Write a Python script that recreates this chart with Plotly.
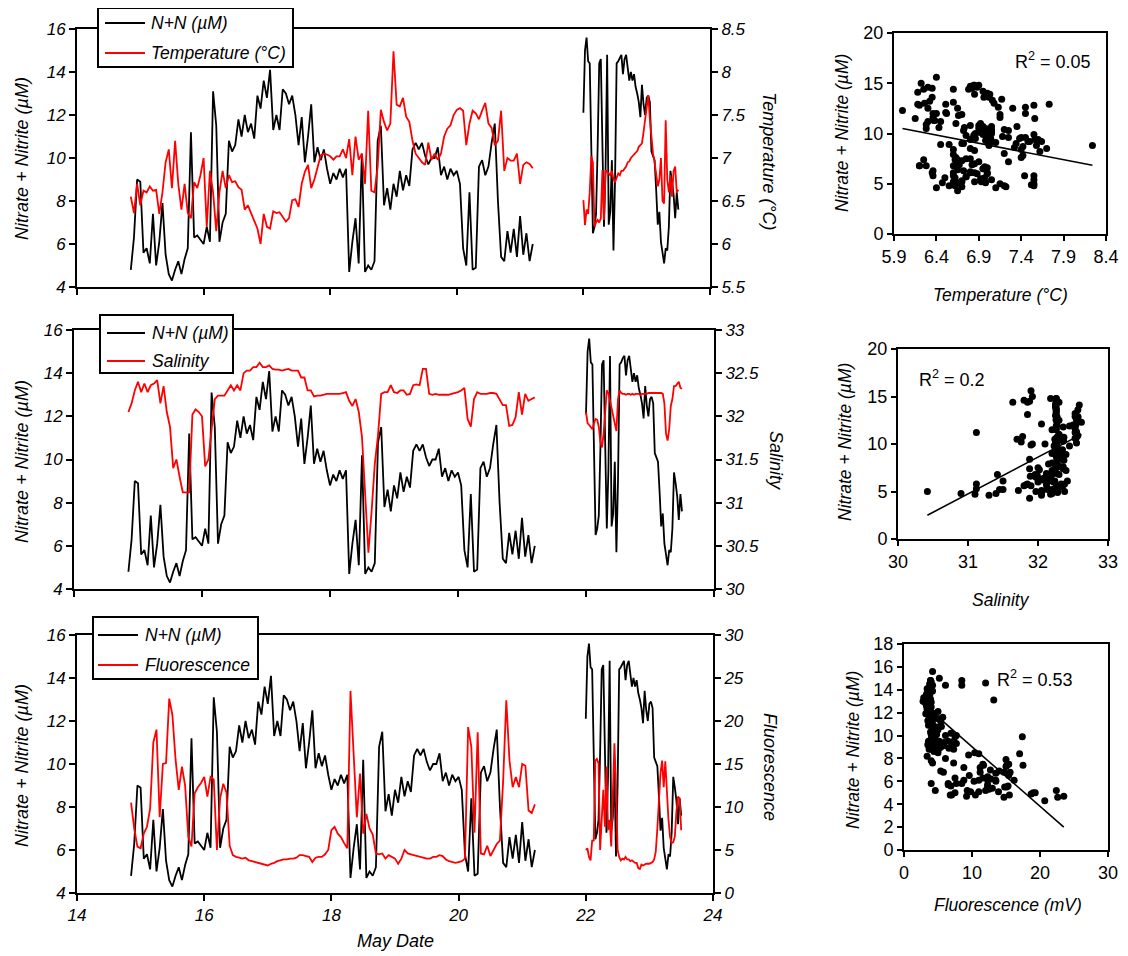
import plotly.graph_objects as go

# ---------------- data ----------------
seg1_start, seg1_step = 14.85, 0.05     # May date, first sampling segment
seg2_start, seg2_step = 22.0, 0.025     # May date, second sampling segment

nn_seg1 = [4.8, 6.3, 9.0, 8.9, 5.6, 5.8, 5.1, 7.4, 5.0, 6.1,
           7.9, 5.5, 4.6, 4.3, 4.8, 5.2, 4.6, 5.3, 5.8, 11.2,
           6.3, 6.4, 6.2, 6.0, 6.8, 6.1, 13.1, 11.5, 6.1, 7.0,
           7.4, 10.8, 10.3, 10.6, 11.8, 11.0, 12.0, 11.2, 11.6, 10.9,
           12.9, 12.3, 13.6, 12.8, 14.1, 11.3, 12.0, 11.3, 13.2, 13.0,
           12.5, 12.9, 12.0, 10.6, 11.9, 9.8, 11.0, 12.5, 9.8, 10.5,
           9.9, 10.4, 9.5, 8.8, 9.3, 9.0, 9.5, 9.1, 9.5, 4.7,
           6.1, 7.2, 5.1, 10.2, 4.7, 5.0, 4.8, 5.2, 10.8, 11.5,
           7.8, 8.6, 7.6, 8.8, 8.2, 9.4, 8.5, 9.2, 8.7, 10.4,
           10.7, 10.4, 10.7, 10.1, 9.7, 10.0, 10.0, 10.5, 9.2, 9.6,
           9.0, 9.5, 9.2, 9.4, 8.8, 5.8, 5.0, 8.4, 4.8, 4.9,
           9.6, 9.9, 9.2, 9.6, 10.7, 11.6, 8.0, 5.4, 5.2, 6.6,
           5.6, 6.7, 5.4, 7.3, 5.5, 6.5, 5.2, 6.0]
nn_seg2 = [12.1, 15.0, 15.6, 14.5, 14.4, 10.0, 6.5, 6.8, 7.4, 10.5,
           14.4, 14.6, 10.0, 6.8, 9.5, 14.8, 6.9, 7.5, 9.9, 5.7,
           9.0, 14.4, 14.5, 14.7, 14.8, 13.9, 14.6, 14.8, 14.2, 13.6,
           14.0, 13.6, 13.9, 13.3, 13.0, 12.6, 11.9, 13.4, 12.5, 12.0,
           12.8, 12.9, 12.6, 10.3, 10.1, 9.9, 8.5, 6.9, 7.5, 6.1,
           5.6, 5.1, 5.8, 5.7, 6.8, 9.4, 8.9, 8.3, 7.2, 8.4,
           7.6]

temp_seg1 = [6.55, 6.36, 6.70, 6.45, 6.62, 6.60, 6.67, 6.62, 6.63, 6.35,
             6.60, 6.95, 7.10, 6.65, 7.20, 6.70, 6.40, 6.70, 6.36, 6.30,
             6.72, 6.65, 6.80, 7.00, 6.20, 6.85, 6.60, 6.15, 6.60, 6.85,
             6.65, 6.80, 6.72, 6.73, 6.66, 6.63, 6.40, 6.45, 6.36, 6.28,
             6.18, 6.00, 6.35, 6.20, 6.18, 6.38, 6.36, 6.37, 6.32, 6.26,
             6.30, 6.51, 6.52, 6.43, 6.70, 6.84, 6.92, 6.65, 6.75, 6.90,
             7.03, 7.05, 7.04, 7.02, 6.98, 7.02, 7.02, 7.10, 7.00, 7.22,
             6.80, 7.25, 6.98, 7.05, 6.70, 7.55, 6.62, 6.60, 6.90, 7.56,
             7.42, 7.32, 7.40, 8.24, 7.62, 7.60, 7.70, 7.48, 7.42, 7.20,
             7.05, 7.00, 6.95, 6.92, 7.18, 6.98, 7.05, 6.98, 7.05, 7.25,
             7.34, 7.38, 7.50, 7.56, 7.58, 7.55, 7.15, 7.40, 7.55, 7.52,
             7.45, 7.55, 7.64, 7.40, 7.35, 7.15, 7.20, 7.55, 6.85, 7.00,
             6.97, 6.97, 7.05, 6.70, 6.92, 6.95, 6.93, 6.88]
temp_seg2 = [6.51, 6.22, 6.40, 6.35, 6.60, 7.02, 6.95, 6.20, 6.25, 6.28,
             6.25, 6.30, 6.86, 6.28, 6.86, 6.84, 6.82, 6.80, 6.85, 6.75,
             6.72, 6.78, 6.82, 6.80, 6.85, 6.85, 6.88, 6.90, 6.95, 6.96,
             7.00, 7.02, 7.03, 7.06, 7.08, 7.13, 7.15, 7.17, 7.30, 7.45,
             7.55, 7.73, 7.45, 7.25, 7.05, 6.95, 6.80, 6.67, 6.75, 7.00,
             6.50, 6.47, 7.44, 6.75, 6.60, 6.80, 6.55, 6.85, 6.90, 6.60,
             6.63]

sal_seg1 = [32.05, 32.15, 32.30, 32.40, 32.28, 32.38, 32.28, 32.36, 32.38, 32.42,
            32.15, 32.35, 32.05, 31.88, 31.40, 31.50, 31.30, 31.12, 31.12, 31.12,
            32.02, 32.08, 32.05, 32.00, 31.42, 31.50, 31.85, 32.20, 32.24, 32.24,
            32.24, 32.30, 32.36, 32.30, 32.36, 32.30, 32.50, 32.53, 32.53, 32.57,
            32.57, 32.62, 32.57, 32.57, 32.59, 32.55, 32.54, 32.54, 32.53, 32.54,
            32.55, 32.53, 32.53, 32.53, 32.45, 32.45, 32.30, 32.30, 32.23, 32.24,
            32.24, 32.25, 32.26, 32.26, 32.26, 32.26, 32.26, 32.27, 32.28, 32.18,
            32.12, 32.20, 32.05, 31.76, 31.10, 30.42, 30.90, 31.45, 31.78, 32.26,
            32.28, 32.28, 32.36, 32.28, 32.27, 32.30, 32.30, 32.25, 32.26, 32.36,
            32.37, 32.36, 32.55, 32.55, 32.26, 32.25, 32.26, 32.25, 32.25, 32.25,
            32.25, 32.26, 32.27, 32.28, 32.30, 32.33, 31.97, 31.88, 32.20, 32.28,
            32.26, 32.26, 32.26, 32.27, 32.27, 32.26, 32.20, 32.13, 32.13, 31.89,
            31.90, 31.99, 32.28, 32.02, 32.26, 32.18, 32.20, 32.22]
sal_seg2 = [32.05, 31.92, 31.90, 31.88, 31.85, 31.92, 31.97, 31.96, 31.88, 31.70,
            31.64, 31.80, 32.10, 32.30, 32.27, 32.18, 32.12, 32.00, 31.90, 31.83,
            32.20, 32.30, 32.27, 32.26, 32.26, 32.25, 32.26, 32.26, 32.25, 32.26,
            32.25, 32.26, 32.26, 32.26, 32.25, 32.26, 32.26, 32.26, 32.26, 32.27,
            32.27, 32.27, 32.27, 32.27, 32.27, 32.27, 32.27, 32.27, 32.26, 32.15,
            31.80, 31.72, 31.85, 32.12, 32.20, 32.35, 32.35, 32.37, 32.40, 32.33,
            32.32]

fl_seg1 = [10.5, 7.5, 5.4, 5.2, 6.9, 7.7, 9.8, 17.5, 19.0, 8.8,
           15.0, 15.1, 22.6, 20.7, 15.5, 12.0, 14.7, 12.5, 6.5, 5.4,
           11.6, 12.3, 12.8, 13.5, 11.2, 13.5, 13.2, 5.0, 11.0, 12.7,
           11.7, 5.5, 4.4, 4.2, 4.1, 4.0, 4.1, 3.8, 3.7, 3.6,
           3.5, 3.4, 3.3, 3.2, 3.4, 3.5, 3.7, 3.8, 3.9, 3.9,
           4.0, 4.0, 4.1, 4.4, 4.4, 4.3, 4.2, 3.6, 4.1, 4.2,
           4.2, 4.5, 5.0, 7.3, 7.7, 6.9, 6.5, 5.8, 5.2, 23.5,
           16.2, 8.8, 13.9, 6.9, 9.2, 7.5, 6.8, 4.6, 4.5, 4.6,
           4.0, 4.4, 4.2, 4.0, 3.4, 4.0, 5.0, 4.6, 4.5, 4.4,
           4.3, 4.2, 4.1, 4.0, 4.0, 4.2, 4.2, 4.4, 4.3, 3.9,
           3.7, 3.6, 3.5, 3.6, 3.7, 4.0, 19.3, 17.0, 7.0, 18.7,
           4.6, 4.5, 5.5, 4.3, 5.0, 5.7, 6.1, 13.0, 22.4, 15.4,
           12.3, 13.5, 12.3, 15.0, 14.8, 9.6, 9.3, 10.3]
fl_seg2 = [5.0, 5.2, 4.2, 3.8, 6.1, 6.1, 15.4, 15.6, 15.1, 5.0,
           8.5, 12.0, 7.7, 14.7, 7.3, 8.5, 5.4, 11.6, 17.4, 12.3,
           5.0, 4.2, 3.8, 4.0, 3.9, 4.2, 3.9, 3.9, 3.7, 3.8,
           3.6, 3.5, 3.5, 2.9, 2.8, 3.3, 3.2, 3.3, 3.4, 3.4,
           3.4, 3.5, 3.6, 3.9, 4.8, 7.5, 10.4, 14.0, 15.4, 12.3,
           15.3, 11.0, 8.5, 6.5, 5.8, 5.9, 6.6, 9.5, 11.2, 11.0,
           7.3]

# regression lines (slope, intercept)
trend_temp = [-1.636, 20.32]
trend_sal = [3.867, -115.13]
trend_fl = [-0.52, 14.22]
r2_labels = ["R<sup>2</sup> = 0.05", "R<sup>2</sup> = 0.2", "R<sup>2</sup> = 0.53"]

series_names = ["N+N (µM)", "Temperature (°C)", "Salinity", "Fluorescence"]
date_ticks = [14, 16, 18, 20, 22, 24]

# ---------------- build ----------------
t1 = [round(seg1_start + i * seg1_step, 3) for i in range(len(nn_seg1))]
t2 = [round(seg2_start + i * seg2_step, 3) for i in range(len(nn_seg2))]
t_all = t1 + [None] + t2
nn_all = nn_seg1 + [None] + nn_seg2
temp_all = temp_seg1 + [None] + temp_seg2
sal_all = sal_seg1 + [None] + sal_seg2
fl_all = fl_seg1 + [None] + fl_seg2

nn_pts = nn_seg1 + nn_seg2
temp_pts = temp_seg1 + temp_seg2
sal_pts = sal_seg1 + sal_seg2
fl_pts = fl_seg1 + fl_seg2

OFF = 8                     # page body margin of the html page
W, H = 1128 - 2 * OFF, 956 - OFF
FONT = "Liberation Sans, Arial, sans-serif"
RED = "#FF0000"


def px(x):
    return (x - OFF) / W


def py(y):
    return 1 - (y - OFF) / H


def italic(size=17):
    return dict(family=FONT, size=size, color="black", style="italic")


def upright(size=18):
    return dict(family=FONT, size=size, color="black")


def axis(**kw):
    d = dict(showline=True, linecolor="black", linewidth=2, ticks="outside",
             ticklen=6, tickwidth=2, tickcolor="black", showgrid=False,
             zeroline=False, automargin=False, tickfont=italic(),
             ticklabeloverflow="allow")
    d.update(kw)
    return d


fig = go.Figure()

panels = [
    ("x", "y", "y2", temp_all, series_names[1], (77, 710), (29, 287), [5.5, 8.5], 0.5),
    ("x2", "y3", "y4", sal_all, series_names[2], (74, 714), (330, 589), [30, 33], 0.5),
    ("x3", "y5", "y6", fl_all, series_names[3], (77, 713), (635, 893), [0, 30], 5),
]

layout_axes = {}
for i, (xa, yl, yr, rser, rname, xd, yd, rrange, rdt) in enumerate(panels):
    fig.add_trace(go.Scatter(x=t_all, y=nn_all, mode="lines", name=series_names[0],
                             line=dict(color="black", width=1.8), showlegend=False,
                             xaxis=xa, yaxis=yl, connectgaps=False))
    fig.add_trace(go.Scatter(x=t_all, y=rser, mode="lines", name=rname,
                             line=dict(color=RED, width=1.8), showlegend=False,
                             xaxis=xa, yaxis=yr, connectgaps=False))
    xname = "xaxis" if xa == "x" else "xaxis" + xa[1:]
    ylname = "yaxis" if yl == "y" else "yaxis" + yl[1:]
    yrname = "yaxis" + yr[1:]
    layout_axes[xname] = axis(domain=[px(xd[0]), px(xd[1])], anchor=yl, range=[14, 24],
                              tickvals=date_ticks, mirror=True,
                              showticklabels=(i == 2))
    layout_axes[ylname] = axis(domain=[py(yd[1]), py(yd[0])], anchor=xa, range=[4, 16],
                               dtick=2, tick0=4)
    layout_axes[yrname] = axis(overlaying=yl, side="right", anchor=xa, range=rrange,
                               dtick=rdt, tick0=rrange[0])

scat = [
    ("x4", "y7", temp_pts, trend_temp, (894, 1106), (33, 234), [5.9, 8.4], 0.5, 5.9, [0, 20], 5),
    ("x5", "y8", sal_pts, trend_sal, (898, 1108), (349, 539), [30, 33], 1, 30, [0, 20], 5),
    ("x6", "y9", fl_pts, trend_fl, (904, 1108), (644, 850), [0, 30], 10, 0, [0, 18], 2),
]
for xa, ya, xs, tr, xd, yd, xr, xdt, x0, yr, ydt in scat:
    fig.add_trace(go.Scatter(x=xs, y=nn_pts, mode="markers", showlegend=False,
                             marker=dict(color="black", size=7),
                             xaxis=xa, yaxis=ya))
    lx = [min(xs), max(xs)]
    fig.add_trace(go.Scatter(x=lx, y=[tr[0] * v + tr[1] for v in lx], mode="lines",
                             showlegend=False, line=dict(color="black", width=1.6),
                             xaxis=xa, yaxis=ya))
    layout_axes["xaxis" + xa[1:]] = axis(domain=[px(xd[0]), px(xd[1])], anchor=ya,
                                         range=xr, dtick=xdt, tick0=x0, mirror=True,
                                         tickfont=upright(), ticklen=5)
    layout_axes["yaxis" + ya[1:]] = axis(domain=[py(yd[1]), py(yd[0])], anchor=xa,
                                         range=yr, dtick=ydt, tick0=0, mirror=True,
                                         tickfont=upright(), ticklen=5)

ann = []
shapes = []


def add_text(text, x, y, angle=0, font=None, xanchor="center"):
    ann.append(dict(text=text, x=px(x), y=py(y), xref="paper", yref="paper",
                    showarrow=False, textangle=angle, font=font or italic(18),
                    xanchor=xanchor, yanchor="middle"))


# legend boxes: (box x0, x1, y0, y1, line x0, x1, text x, row1 y, row2 y, red name)
legend_boxes = [
    (98, 293, 8, 67, 105, 145, 149, 23, 53, series_names[1]),
    (100, 233, 315, 373, 107, 145, 150, 333, 361, series_names[2]),
    (93, 258, 617, 679, 98, 138, 143, 635, 665, series_names[3]),
]
for bx0, bx1, by0, by1, lx0, lx1, tx, r1, r2, rname in legend_boxes:
    shapes.append(dict(type="rect", xref="paper", yref="paper", layer="above",
                       x0=px(bx0), x1=px(bx1), y0=py(by1), y1=py(by0),
                       line=dict(color="black", width=2), fillcolor="white"))
    for ry, col in ((r1, "black"), (r2, RED)):
        shapes.append(dict(type="line", xref="paper", yref="paper", layer="above",
                           x0=px(lx0), x1=px(lx1), y0=py(ry), y1=py(ry),
                           line=dict(color=col, width=1.8)))
    add_text(series_names[0], tx, r1, font=italic(17.5), xanchor="left")
    add_text(rname, tx, r2, font=italic(17.5), xanchor="left")

for yc in (159, 462, 766):
    add_text("Nitrate + Nitrite (µM)", 22, yc, -90)
add_text("Temperature (°C)", 769, 161, 90)
add_text("Salinity", 776, 460, 90)
add_text("Fluorescence", 770, 767, 90)
add_text("May Date", 395, 941)

add_text("Temperature (°C)", 1000, 295, font=italic(17.5))
add_text("Nitrate + Nitrite (µM)", 842, 133, -90, font=italic(17.5))
add_text("Salinity", 1001, 600, font=italic(17.5))
add_text("Nitrate + Nitrite (µM)", 845, 442, -90, font=italic(17.5))
add_text("Fluorescence (mV)", 1008, 905, font=italic(17.5))
add_text("Nitrate + Nitrite (µM)", 853, 750, -90, font=italic(17.5))
add_text(r2_labels[0], 1053, 60, font=upright(18))
add_text(r2_labels[1], 952, 378, font=upright(18))
add_text(r2_labels[2], 1035, 678, font=upright(18))

fig.update_layout(
    width=W, height=H, autosize=False,
    margin=dict(l=0, r=0, t=0, b=0, autoexpand=False),
    paper_bgcolor="white", plot_bgcolor="white",
    font=dict(family=FONT, color="black"),
    showlegend=False,
    annotations=ann,
    shapes=shapes,
    **layout_axes,
)

fig.write_html("out.html")
